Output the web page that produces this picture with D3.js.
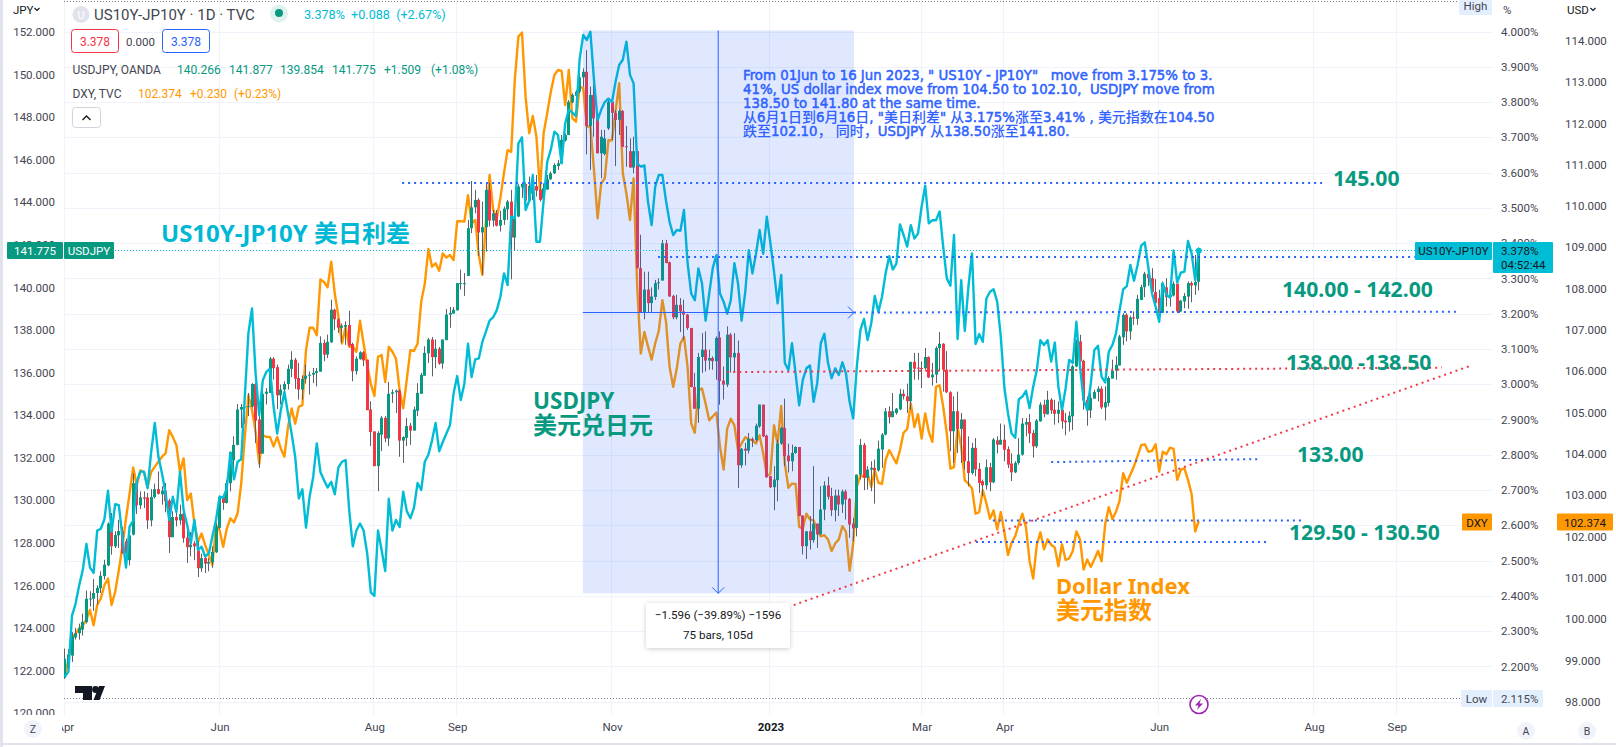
<!DOCTYPE html>
<html><head><meta charset="utf-8">
<script src="https://cdn.jsdelivr.net/npm/d3@7/dist/d3.min.js"></script>
<style>
html,body{margin:0;padding:0;background:#fff;overflow:hidden}
svg{display:block}
text{font-family:Roboto,"Noto Sans CJK SC",sans-serif}
.big{font-family:"Noto Sans","Noto Sans CJK SC",sans-serif;font-weight:700}
</style></head><body>
<svg id="c" width="1616" height="747"></svg>
<script>
// ---------- data ----------
const opens=[121.65,122.1,122.7,123.55,123.75,123.92,124.27,125.35,125.37,125.64,
125.86,126.43,126.94,128.58,127.83,128.35,128.55,128.07,127.18,128.38,
130.8,129.76,130.13,130.13,129.05,130.15,130.52,130.28,130.45,129.98,
128.26,129.21,129.05,129.37,128.24,127.79,127.97,127.64,126.8,127.28,
127.02,127.08,127.55,128.7,130.15,129.87,130.8,131.87,132.6,134.26,
134.38,134.4,134.4,135.46,133.79,132.19,135,135.04,136.65,136.25,
134.93,135.2,135.46,136.17,136.6,135.74,135.2,135.7,135.85,135.9,
135.98,136.04,137.39,136.84,137.42,138.95,138.5,138.1,138.15,138.23,
137.34,136.06,136.63,136.95,136.6,134.26,133.23,131.6,133.08,133.87,
132.9,135,135.07,135.15,132.8,132.93,133.5,133.27,134.2,135,
135.85,136.9,137.55,136.72,137.12,136.42,137.52,138.72,138.77,138.92,
140.2,140.17,140.54,142.78,143.76,144.11,142.58,142.83,144.58,143.14,
143.48,142.9,143.17,143.67,144.03,142.34,143.33,144.7,144.86,144.08,
144.42,144.76,144.6,144.18,144.6,145.08,145.36,145.7,145.83,146.9,
147.16,148.7,149,149.2,149.87,150.13,147.58,149.04,147.94,146.3,
146.27,147.47,148.72,148.2,147.87,148.29,146.63,146.4,145.63,146.4,
140.9,138.8,139.9,139.26,139.55,140.2,140.32,142.07,141.18,139.6,
138.59,139.18,138.87,138.72,138.09,135.32,134.3,136.73,137.07,136.56,
136.68,136.53,137.65,135.62,135.43,137.78,136.71,136.92,131.64,132.42,
132.33,132.88,132.82,133.47,134.49,133.03,131.13,130.61,130.94,132.66,
133.4,132.1,131.83,132.22,132.5,129.28,127.84,128.54,128.12,128.9,
128.39,129.56,130.69,130.19,129.53,130.22,129.8,130.41,130.06,128.9,
128.7,131.2,132.6,131.05,131.44,131.52,131.4,132.38,133.08,134.18,
133.9,134.1,134.27,135,134.88,134.65,136.5,136.23,136.21,136.2,
136.73,135.77,135.9,137.15,137.35,136.13,135.07,133.24,134.18,133.35,
133.79,131.83,131.28,132.46,131.47,130.89,130.7,131.55,130.84,132.81,
132.61,132.84,132.4,131.72,131.31,131.75,132.14,133.55,133.67,133.16,
132.53,133.7,134.49,134.04,134.72,134.25,134.06,134.25,133.74,133.66,
133.94,136.29,137.46,136.55,134.72,134.22,134.77,135.08,135.24,134.36,
134.57,135.71,136.08,136.33,137.66,138.71,137.93,138.59,138.52,139.41,
140.01,140.64,140.43,139.78,139.5,138.8,140,139.54,139.62,140.17,
138.87,139.34,139.57,140.2,140.09,140.266];
const highs=[123.03,123,123.8,124,124.2,124.67,125.75,125.72,126.3,126,
126.66,127.2,128.96,129.4,128.54,129.08,128.74,128.2,128.77,131.27,
130.88,130.41,130.41,130.34,130.52,130.78,131.35,130.65,130.81,130.07,
129.48,129.45,129.79,129.4,128.6,128.5,128.07,128.07,127.49,127.44,
127.28,127.83,128.93,130.21,130.2,130.96,132.29,133,134.52,134.52,
134.73,135.04,135.5,135.51,134.1,135.2,135.27,136.73,136.72,136.37,
135.43,135.59,136.37,137,136.68,136.45,135.87,136.37,136.05,136.21,
136.21,137.7,137.55,137.78,139.42,139,138.55,138.3,138.4,138.9,
137.4,136.76,137,137,136.6,134.65,133.23,133.24,133.95,133.95,
135.56,135.2,135.2,135.2,133,133.87,133.63,134.4,135.5,135.98,
137.23,137.62,137.67,137.55,137.2,137.55,138.98,139.08,139.08,140.2,
140.83,140.67,143.17,145,144.58,144.19,144.03,144.89,144.92,143.64,
143.64,143.6,143.8,144.11,144.58,143.48,144.84,144.89,144.92,145.2,
144.9,145.28,144.89,144.89,145.28,145.44,145.83,145.99,147.16,147.24,
148.8,149.12,149.27,150.06,150.29,151.15,149.43,150.21,148,147.4,
147.4,148.88,148.88,148.33,148.37,148.33,147.58,147,147.08,146.43,
142.47,140.74,140.74,140,140.35,140.43,142.23,142.23,141.21,139.65,
139.65,139.5,139.42,138.75,138.1,135.98,136.92,137.85,137.93,137.07,
136.76,137.7,137.93,136.29,138.17,137.85,137.85,137.5,132.45,132.69,
133.16,132.95,133.6,134.49,134.49,133.08,131.13,131.6,132.85,133.45,
134.77,132.66,132.61,132.53,132.5,129.28,128.54,129.25,131.6,128.9,
130.66,130.89,131.1,130.58,130.5,130.5,130.5,130.5,130.1,129.17,
131.2,132.88,132.69,131.6,131.83,131.91,132.8,133.16,134.33,134.41,
135.04,134.33,135.23,135.2,135.48,136.5,136.92,136.92,136.52,137.15,
136.76,136.45,137.23,137.9,137.38,137,135.12,134.88,135.1,134.1,
133.79,133,132.69,132.92,131.75,130.97,131.91,131.75,132.92,133,
133.6,133.55,132.53,132.2,131.83,132.92,133.86,133.86,134.05,133.3,
133.81,134.6,134.72,135.14,134.8,134.72,134.64,134.33,134.1,134.17,
136.36,137.54,137.77,136.6,134.87,135.03,135.19,135.35,135.35,135.35,
135.82,136.6,136.76,137.77,138.79,138.79,138.67,138.87,139.65,140.12,
140.73,140.67,140.9,140.39,139.89,140.28,140.43,139.89,140.28,140.17,
139.41,139.73,140.28,140.28,141.53,141.877];
const lows=[121.6,122,122.4,123.45,123.45,123.64,124.2,125,124.8,125.1,
125.64,126.27,126.9,127.44,127.75,127.75,127.49,126.9,126.93,128.35,
129.35,129.59,129.63,128.65,128.77,130.07,130.26,129.79,129.43,127.52,
128.26,128.77,128.85,128,127.05,127.36,127.18,126.39,126.63,126.58,
126.66,126.82,127.52,128.65,129.55,129.84,130.41,131.43,132.58,133.4,
133.6,133.95,134.35,132.69,131.52,132.19,134.5,135.04,135.67,134.29,
134.5,134.73,135.2,135.78,135.23,134.73,134.73,135.48,134.96,135.5,
135.35,136.04,136.53,136.68,137.39,138,137.86,137.39,137.3,137.23,
135.59,135.9,136.6,136.3,134.23,132.54,131.6,130.42,132.3,132.72,
132.54,134.57,134.1,132.04,131.75,132.54,132.6,133.27,133.95,135,
135.85,136.45,135.82,136.2,136.37,136.18,137.52,138.1,138.77,138.92,
139.9,139.6,140.54,142.55,143.48,141.48,140.6,141.68,142.86,142.86,
142.86,142.62,142.94,143.17,140.38,141.76,143.3,144.2,144.03,144.03,
144.1,144.27,144.03,144.11,144.58,145.05,145.33,145.52,146.9,146.85,
147.16,148.65,148.49,149.12,149.43,146.25,145.52,147.08,146.3,145.13,
146.2,147.4,146.93,145.7,147.16,146.6,145.67,145.63,145.36,140.9,
138.8,138.5,138.8,138.8,139.41,139.9,140.32,141.14,139.57,138.5,
138.5,137.9,137.54,138,135.3,134.3,133.63,135.98,136.05,136.13,
136.13,135.66,134.49,134.73,135.32,136,136.06,130.58,131.52,131.64,
132.19,132.5,132.77,133.4,132.97,131.05,130.58,129.53,129.95,132.6,
131.6,131.3,131.36,132.18,129.25,127.45,127.23,127.68,128,127.76,
128.39,129.06,130.03,129.25,129,129.25,129.4,129.09,128.23,128.07,
128.3,130.97,130.47,130.5,130.42,129.84,131.35,131.52,133.05,133.6,
133.9,134.02,134.22,134.73,134.1,134.25,135.66,135.66,135.27,136.13,
135.74,135.38,135.5,136.06,135.1,135.04,132.3,131.75,132.22,131.75,
131.44,130.65,131.2,131.12,130.34,130.2,130.5,130.42,130.8,132.2,
132.61,131.83,131.51,130.9,131.27,131.67,132.09,133,132.69,132,
132.45,133.7,133.9,134.02,134.06,133.55,133.62,133.36,133.05,133.23,
133.3,136.25,136.47,134.25,133.5,133.86,135.05,134.64,134.28,133.75,
134.41,136.06,135.66,136.33,137.3,137.46,137.54,138.24,138.24,139.41,
139.54,140.07,139.73,139,138.79,138.79,139.1,139.1,139.57,138.79,
138.84,139.02,139,139.3,139.65,139.854];
const closes=[122.55,122.75,123.6,123.75,124,124.28,125.37,125.38,125.64,125.88,
126.45,126.97,128.9,127.83,128.36,128.55,127.5,127.49,128.35,130.8,
129.76,130.13,130.07,129.05,130.15,130.52,130.3,130.45,129.95,128.26,
129.21,129.05,129.35,128.21,127.79,127.91,127.83,126.8,127.28,127.02,
127.1,127.57,128.74,130.15,129.87,130.8,132.25,132.6,134.26,134.38,
134.4,134.42,135.46,133.74,132.19,135,135.1,136.65,136.2,134.93,
135.2,135.46,136.17,136.6,135.71,135.2,135.7,135.85,135.9,135.98,
136.06,137.39,136.84,137.44,138.95,138.5,138.1,138.2,138.23,137.26,
136.06,136.65,136.95,136.57,134.23,133.2,131.6,133.16,133.87,132.9,
135,135.07,135.15,132.8,132.97,133.48,133.27,134.26,135.04,135.89,
136.92,137.55,136.72,137.12,136.42,137.55,138.72,138.8,138.95,140.2,
140.2,140.2,142.78,143.76,144.11,142.58,142.83,144.58,143.14,143.48,
142.9,143.17,143.7,144.03,142.34,143.33,144.74,144.86,144.08,144.77,
144.78,144.55,144.11,144.66,145.08,145.36,145.75,145.83,146.93,147.16,
148.72,149.04,149.2,149.87,150.13,147.58,149.04,147.94,146.3,147.08,
147,148.72,148.2,147.87,148.29,146.6,146.6,145.63,146.4,140.9,
138.8,139.9,139.26,139.57,140.2,140.24,142.07,141.14,139.57,138.59,
139.18,138.87,138.72,138.09,135.32,134.3,136.73,137.07,136.56,136.68,
136.53,137.62,135.6,135.43,137.78,136.71,136.92,131.64,132.42,132.33,
132.88,132.8,133.5,134.49,133,131.08,130.61,130.97,132.66,133.4,
132.07,131.83,132.22,132.5,129.25,127.84,128.54,128.12,128.9,128.39,
129.56,130.69,130.16,129.53,130.22,129.8,130.41,130.03,128.86,128.67,
131.2,132.6,131.05,131.44,131.52,131.4,132.42,133.08,134.18,133.9,
134.18,134.3,135,134.88,134.65,136.5,136.18,136.21,136.2,136.73,
135.77,135.9,137.15,137.35,136.13,135.07,133.24,134.18,133.35,133.79,
131.83,131.28,132.46,131.44,130.81,130.7,131.55,130.84,132.85,132.61,
132.84,132.37,131.67,131.31,131.75,132.14,133.6,133.67,133.13,132.53,
133.74,134.49,134.06,134.72,134.22,134.06,134.25,133.7,133.66,133.97,
136.29,137.46,136.52,134.69,134.22,134.8,135.08,135.24,134.36,134.6,
135.74,136.08,136.36,137.69,138.71,137.93,138.59,138.54,139.46,140.01,
140.64,140.43,139.78,139.26,138.8,140.2,139.54,139.65,140.17,138.87,
139.38,139.6,140.2,140.09,140.25,141.775];
const spread=[2.17,2.185,2.344,2.378,2.43,2.473,2.547,2.48,2.465,2.585,
2.59,2.617,2.698,2.582,2.66,2.657,2.568,2.48,2.596,2.613,
2.723,2.752,2.752,2.705,2.809,2.89,2.794,2.747,2.69,2.615,
2.681,2.638,2.752,2.643,2.6,2.549,2.615,2.53,2.539,2.511,
2.52,2.568,2.615,2.681,2.678,2.705,2.806,2.73,2.78,2.787,
2.964,3.144,3.215,3.03,2.912,3.011,3.035,3.044,2.936,2.86,
2.926,2.978,2.917,2.86,2.794,2.676,2.702,2.593,2.681,2.737,
2.832,2.751,2.728,2.707,2.723,2.688,2.764,2.78,2.785,2.643,
2.54,2.585,2.605,2.585,2.52,2.41,2.4,2.585,2.53,2.47,
2.675,2.585,2.615,2.595,2.695,2.64,2.62,2.65,2.72,2.7,
2.78,2.8,2.84,2.89,2.81,2.836,2.86,2.884,2.974,3.023,
2.955,3.002,3.115,3.02,3.07,3.073,3.12,3.15,3.18,3.19,
3.21,3.248,3.314,3.281,3.475,3.47,3.683,3.7,3.494,3.52,
3.593,3.404,3.404,3.52,3.63,3.665,3.716,3.706,3.626,3.74,
3.778,3.77,3.76,3.92,3.99,3.976,3.999,3.862,3.749,3.778,
3.8,3.81,3.8,3.858,3.905,3.92,3.971,3.877,3.853,3.625,
3.617,3.62,3.517,3.451,3.56,3.593,3.593,3.52,3.46,3.423,
3.437,3.435,3.494,3.343,3.257,3.238,3.328,3.286,3.18,3.257,
3.33,3.366,3.257,3.234,3.2,3.238,3.343,3.286,3.18,3.26,
3.38,3.314,3.37,3.437,3.37,3.475,3.4,3.32,3.229,3.31,
3.06,3.04,3.116,3.03,2.94,3.012,3.045,3.053,2.95,3.003,
3.116,3.143,3.06,3.017,3.045,3.026,3.062,3.03,2.95,2.903,
3.05,3.153,3.185,3.125,3.172,3.25,3.205,3.248,3.314,3.363,
3.325,3.342,3.453,3.423,3.39,3.451,3.413,3.427,3.503,3.563,
3.456,3.465,3.465,3.49,3.39,3.3,3.279,3.423,3.128,3.295,
3.151,3.276,3.371,3.114,3.142,3.12,3.243,3.262,3.269,3.234,
3.134,2.99,2.917,2.86,2.848,2.957,2.965,2.981,2.932,2.993,
3.04,3.125,3.111,3.125,3.064,3.118,2.993,2.927,2.988,3.069,
3.06,3.177,3.05,2.955,2.927,3.002,3.097,3.109,3.021,3.005,
3.092,3.111,3.144,3.21,3.269,3.278,3.338,3.293,3.338,3.393,
3.402,3.329,3.258,3.22,3.177,3.286,3.253,3.246,3.379,3.288,
3.316,3.319,3.406,3.371,3.295,3.378];
const dxy=[98.64,99,99.55,99.65,99.77,99.85,99.99,100.22,99.85,100.34,
100.5,100.82,100.98,100.34,100.66,101.18,101.75,102.44,103.04,103.67,
103.24,103.6,103.56,103.2,103.56,103.69,103.81,103.93,104.01,104.57,
104.41,104.21,103.56,103.89,102.88,103.04,102.31,101.87,102.07,101.79,
101.55,101.31,102.27,102.15,101.75,102.19,102.44,102.34,102.56,103.28,
104.41,105.42,105.06,104.53,103.76,104.45,104.41,104.41,104.18,104.41,
104.13,103.93,104.65,105.1,104.73,105.14,105.18,106.51,107.05,107.05,
106.87,108.22,108.16,108.03,108.65,107.88,107.32,106.67,107.07,106.59,
106.59,106.47,107.22,106.67,106.15,105.7,105.4,106.35,106.39,105.74,
106.59,106.47,106.3,105.54,105.1,105.8,106.51,106.49,106.67,107.68,
108.12,108.96,108.53,108.61,108.43,108.85,108.75,108.81,108.69,109.63,
109.63,109.62,110.26,109.58,109.66,108.81,108.33,109.66,110.75,109.9,
109.7,110.2,110.8,111.35,111.31,113.05,114.1,114.2,112.64,111.76,
112.18,111.68,110.38,111.76,112.24,112.76,113.17,113.29,113.27,112.44,
113.29,112.12,112.04,112.89,112.85,111.92,111.92,110.87,109.7,110.55,
110.67,111.59,111.59,112.3,112.97,110.79,110.3,109.66,110.67,108.04,
106.43,106.95,106.6,106.28,106.67,106.98,107.72,107.2,106.1,105.62,
106.07,106.67,106.83,106.1,104.73,104.51,105.54,105.58,105.22,104.81,
104.91,105,104.17,103.62,104.61,104.85,104.69,104.09,104.25,104.4,
104.35,104.33,104.25,104.45,104.01,103.48,103.51,104.69,104.25,105.16,
103.77,103.18,103.28,103.27,102.23,102.19,102.55,102.41,102.39,102.15,
102,102.03,101.93,101.65,101.83,101.93,102.25,102.11,101.17,101.83,
103.2,103.48,103.44,103.52,103.2,103.6,103.3,103.27,103.85,104.09,
103.93,103.77,104.09,104.51,104.6,105.22,104.65,104.96,104.37,104.98,
104.53,104.29,105.62,105.66,105.14,104.49,103.64,103.68,104.65,104.17,
103.36,103.28,103.16,102.55,102.59,103.12,102.8,102.43,102.63,102.17,
102.59,102.1,101.55,101.85,102,102.3,102.55,102.22,101.4,100.98,
101.8,102.1,101.69,101.93,101.8,101.73,101.28,101.81,101.43,101.47,
101.65,102.12,101.93,101.2,101.44,101.26,101.45,101.65,101.4,102.3,
102.71,102.42,102.6,102.87,103.53,103.3,103.5,103.7,103.95,104.21,
104.23,104.05,104.07,104.23,103.57,104.05,103.99,104.15,104.12,103.37,
103.61,103.65,103.37,103.03,102.12,102.374];

const timeTickBars=[0,43,86,109,152,196,238,261,304,347,370];
const timeTickLabels=["Apr","Jun","Aug","Sep","Nov","2023","Mar","Apr","Jun","Aug","Sep"];
const jpyTicks=[120,122,124,126,128,130,132,134,136,138,140,142,144,146,148,150,152];
const pctTicks=[2.1,2.2,2.3,2.4,2.5,2.6,2.7,2.8,2.9,3.0,3.1,3.2,3.3,3.4,3.5,3.6,3.7,3.8,3.9,4.0];
const usdTicks=[98,99,100,101,102,103,104,105,106,107,108,109,110,111,112,113,114];

// drawn levels: bar index from/to, USDJPY price from/to
const blueLevels=[[93.7,349.7,144.9,144.9],[164.8,375,141.43,141.43],[219.2,386.6,138.82,138.86],
  [274,331.6,131.79,131.93],[257.8,343.7,129.04,129.04],[253.1,334,128.03,128.03]];
const redLevels=[[184,382.5,136.02,136.23],[200.9,390.2,124.98,136.3]];
const measureBars=[143.9,219.2];         // date range of the measuring box
const measurePct=[4.003,2.407];          // price range of the measuring box
const measureCentre=181.5;
const measureY=138.82;

const noteLines=['From 01Jun to 16 Jun 2023, " US10Y - JP10Y"   move from 3.175% to 3.',
 '41%, US dollar index move from 104.50 to 102.10,  USDJPY move from',
 '138.50 to 141.80 at the same time.',
 '从6月1日到6月16日, "美日利差" 从3.175%涨至3.41% , 美元指数在104.50',
 '跌至102.10， 同时，USDJPY 从138.50涨至141.80.'];

// ---------- scales ----------
const W=1616,H=747,plotL=64,plotR=1493,plotB=715;
const x=d3.scaleLinear().domain([0,315]).range([64.8,1198.8]);
const yJ=d3.scaleLinear().domain([120,152]).range([713,32]);
const yP=d3.scaleLinear().domain([2.1,4]).range([701.6,31.5]);
const yU=d3.scaleLinear().domain([98,114]).range([701.7,40.7]);

const TEAL="#089981",RED="#f23645",CYAN="#00bcd4",ORANGE="#ff9800",BLUE="#2962ff",INK="#434651",GRID="#f0f3fa";
const svg=d3.select("#c");
const defs=svg.append("defs");
defs.append("clipPath").attr("id","plot").append("rect").attr("x",plotL).attr("y",0).attr("width",plotR-plotL).attr("height",plotB);
defs.append("clipPath").attr("id","leftAx").append("rect").attr("x",0).attr("y",20).attr("width",plotL).attr("height",plotB-20);
defs.append("clipPath").attr("id","timeAx").append("rect").attr("x",62).attr("y",plotB).attr("width",W).attr("height",30);
defs.append("clipPath").attr("id","rightAx").append("rect").attr("x",plotR).attr("y",20).attr("width",W).attr("height",plotB-20);

// page furniture
svg.append("rect").attr("width",3).attr("height",H).attr("fill","#e0e3eb");
svg.append("rect").attr("y",743).attr("width",W).attr("height",2).attr("fill","#e0e3eb");
svg.append("line").attr("x1",plotL+.5).attr("x2",plotL+.5).attr("y1",0).attr("y2",plotB).attr("stroke",GRID);

// grid
const grid=svg.append("g");
grid.selectAll("line.h").data(pctTicks).join("line").attr("x1",plotL).attr("x2",plotR)
  .attr("y1",d=>Math.round(yP(d))+.5).attr("y2",d=>Math.round(yP(d))+.5).attr("stroke",GRID);
grid.selectAll("line.v").data(timeTickBars).join("line").attr("y1",0).attr("y2",plotB)
  .attr("x1",d=>Math.round(x(d))-.5).attr("x2",d=>Math.round(x(d))-.5).attr("stroke",GRID);

// high / low dotted
const hl=svg.append("g").attr("stroke","#787b86").attr("stroke-dasharray","1 2");
hl.append("line").attr("x1",plotL).attr("x2",1459).attr("y1",1.5).attr("y2",1.5);
hl.append("line").attr("x1",plotL).attr("x2",1461).attr("y1",698.5).attr("y2",698.5);

// marks
const plot=svg.append("g").attr("clip-path","url(#plot)");
const idx=d3.range(closes.length);
const lineOf=(arr,y)=>d3.line().x((d,i)=>x(i)).y(d=>y(d)).curve(d3.curveLinear)(arr);
plot.append("path").attr("d",lineOf(dxy,yU)).attr("fill","none").attr("stroke",ORANGE).attr("stroke-width",2.4).attr("stroke-linejoin","round");
const candles=plot.append("g");
candles.selectAll("line").data(idx).join("line")
  .attr("x1",i=>Math.round(x(i)-1.5)+1.5).attr("x2",i=>Math.round(x(i)-1.5)+1.5).attr("y1",i=>yJ(highs[i])).attr("y2",i=>yJ(lows[i]))
  .attr("stroke","#5d606b").attr("stroke-width",1);
candles.selectAll("rect").data(idx).join("rect")
  .attr("x",i=>Math.round(x(i)-1.5)).attr("width",3)
  .attr("y",i=>Math.min(yJ(opens[i]),yJ(closes[i])))
  .attr("height",i=>Math.max(1,Math.abs(yJ(opens[i])-yJ(closes[i]))))
  .attr("fill",i=>closes[i]>=opens[i]?TEAL:RED);
plot.append("path").attr("d",lineOf(spread,yP)).attr("fill","none").attr("stroke",CYAN).attr("stroke-width",2.4).attr("stroke-linejoin","round");

// measuring box tint over the marks
const mx0=x(measureBars[0]),mx1=x(measureBars[1]),my0=yP(measurePct[0]),my1=yP(measurePct[1]);
svg.append("rect").attr("x",mx0).attr("y",my0).attr("width",mx1-mx0).attr("height",my1-my0).attr("fill",BLUE).attr("fill-opacity",.15);

// last price dotted
svg.append("line").attr("x1",plotL).attr("x2",1415).attr("y1",Math.round(yJ(141.775))+.5).attr("y2",Math.round(yJ(141.775))+.5)
  .attr("stroke",CYAN).attr("stroke-dasharray","1 2");
plot.append("circle").attr("cx",x(315)).attr("cy",yP(3.378)).attr("r",3).attr("fill",CYAN);

// drawn levels
const drawLevels=(rows,col)=>svg.append("g").selectAll("line").data(rows).join("line")
  .attr("x1",d=>x(d[0])).attr("x2",d=>x(d[1])).attr("y1",d=>yJ(d[2])).attr("y2",d=>yJ(d[3]))
  .attr("stroke",col).attr("stroke-width",2).attr("stroke-dasharray","2 4");
drawLevels(blueLevels,BLUE); drawLevels(redLevels,RED);

// measuring arrows
const cx=x(measureCentre),cy=yJ(measureY);
const mg=svg.append("g").attr("stroke",BLUE).attr("fill","none");
mg.append("line").attr("x1",mx0).attr("x2",mx1).attr("y1",cy).attr("y2",cy);
mg.append("line").attr("x1",cx).attr("x2",cx).attr("y1",my0).attr("y2",my1);
mg.append("path").attr("d",`M${mx1-6},${cy-6}L${mx1},${cy}L${mx1-6},${cy+6}`);
mg.append("path").attr("d",`M${cx-6},${my1-6}L${cx},${my1}L${cx+6},${my1-6}`);

// note: Latin runs in DejaVu, CJK runs in Noto CJK at their own size
const note=svg.append("g").attr("fill","#2f62ff");
noteLines.forEach((line,i)=>{
  const t=note.append("text").attr("x",743).attr("y",80+i*14.1).attr("xml:space","preserve").style("white-space","pre");
  line.split(/([\u3000-\u9fff\uff00-\uffef]+)/).filter(s=>s).forEach(run=>{
    const cjk=/[\u3000-\u9fff\uff00-\uffef]/.test(run);
    t.append("tspan").text(run)
     .style("font-family",cjk?'"Noto Sans CJK SC"':'"DejaVu Sans"')
     .attr("font-size",cjk?14:13.3).attr("font-weight",cjk?500:400)
     .attr("stroke",cjk?"none":"#2f62ff").attr("stroke-width",cjk?0:.5);
  });
});

// big labels
function label(t,xp,yp,col,size,cls){return svg.append("text").attr("class",cls||"big").attr("x",xp).attr("y",yp).attr("fill",col).attr("font-size",size).text(t);}
label("US10Y-JP10Y 美日利差",161,242,"#00b8d4",24);
label("USDJPY",533,409,TEAL,22.5);
label("美元兑日元",533,434,TEAL,24);
label("Dollar Index",1056,594,ORANGE,22);
label("美元指数",1056,619,ORANGE,24);
[["145.00",1333,186],["140.00 - 142.00",1282,297],["138.00 -138.50",1286,370],["133.00",1297,462],["129.50 - 130.50",1289,540]]
 .forEach(d=>label(d[0],d[1],d[2],TEAL,21.2).attr("font-weight",500));

// tooltip
const tf=defs.append("filter").attr("id","sh").attr("x","-20%").attr("y","-30%").attr("width","140%").attr("height","170%");
tf.append("feDropShadow").attr("dx",0).attr("dy",1).attr("stdDeviation",2.5).attr("flood-color","#000").attr("flood-opacity",.2);
svg.append("rect").attr("x",646).attr("y",603).attr("width",144).attr("height",45).attr("rx",3).attr("fill","#fff").attr("filter","url(#sh)");
svg.append("text").attr("x",718).attr("y",619).attr("text-anchor","middle").attr("font-size",11.6).attr("fill","#131722").text("−1.596 (−39.89%) −1596");
svg.append("text").attr("x",718).attr("y",639).attr("text-anchor","middle").attr("font-size",11.6).attr("fill","#131722").text("75 bars, 105d");

// axes (real d3 axes, no domain or tick lines)
function clean(g){g.select(".domain").remove();g.selectAll(".tick line").remove();g.selectAll("text").attr("fill",INK).attr("font-family","Roboto").attr("font-size",11.5);}
svg.append("g").attr("clip-path","url(#leftAx)").append("g").attr("transform","translate(64,0)")
  .call(d3.axisLeft(yJ).tickValues(jpyTicks).tickFormat(d3.format(".3f")).tickSize(0).tickPadding(9)).call(clean);
svg.append("g").attr("clip-path","url(#rightAx)").append("g").attr("transform","translate(1493,0)")
  .call(d3.axisRight(yP).tickValues(pctTicks).tickFormat(d=>d3.format(".3f")(d)+"%").tickSize(0).tickPadding(8)).call(clean);
svg.append("g").attr("clip-path","url(#rightAx)").append("g").attr("transform","translate(1557,0)")
  .call(d3.axisRight(yU).tickValues(usdTicks).tickFormat(d3.format(".3f")).tickSize(0).tickPadding(8)).call(clean);
const tAx=svg.append("g").attr("clip-path","url(#timeAx)").append("g").attr("transform",`translate(0,${plotB+3})`)
  .call(d3.axisBottom(x).tickValues(timeTickBars).tickFormat((d,i)=>timeTickLabels[i]).tickSize(0).tickPadding(5)).call(clean);
tAx.selectAll("text").filter(d=>d===196).attr("font-weight",700).attr("fill","#131722");

// axis units
function small(t,xp,yp,col,anc,size,w){return svg.append("text").attr("x",xp).attr("y",yp).attr("fill",col||INK).attr("font-size",size||11.5).attr("text-anchor",anc||"start").attr("font-weight",w||400).text(t);}
small("JPY",13,14,"#131722");
small("%",1503,14,INK);
small("USD",1567,14,"#131722");
const chev=(cxp,cyp)=>svg.append("path").attr("d",`M${cxp-2.5},${cyp-1.5}L${cxp},${cyp+1}L${cxp+2.5},${cyp-1.5}`).attr("fill","none").attr("stroke","#131722").attr("stroke-width",1.2);
chev(37,9.5);chev(1593,9.5);

// tags
function tag(xp,yp,w,h,fill,lines,col,anc,rx){
  svg.append("rect").attr("x",xp).attr("y",yp).attr("width",w).attr("height",h).attr("fill",fill).attr("rx",rx||1);
  lines.forEach((t,i)=>svg.append("text").attr("x",anc==="middle"?xp+w/2:xp+8).attr("y",yp+13+i*14).attr("text-anchor",anc||"start")
    .attr("font-size",11.5).attr("fill",col).text(t));
}
tag(7,242,56,17,TEAL,["141.775"],"#fff","middle");
tag(64,242,50,17,TEAL,["USDJPY"],"#fff","middle");
tag(1415,242,77,18,CYAN,["US10Y-JP10Y"],"#131722","middle");
tag(1493,242,60,31,CYAN,["3.378%","04:52:44"],"#131722");
tag(1462,513.5,30,17,ORANGE,["DXY"],"#131722","middle");
tag(1557,513.5,56,17,ORANGE,["102.374"],"#131722","middle");
tag(1459,0,33,15,"#e3effd",[],INK);
svg.append("text").attr("x",1475.5).attr("y",10).attr("text-anchor","middle").attr("font-size",11.5).attr("fill",INK).text("High");
tag(1461,690,31,17,"#e3effd",["Low"],INK,"middle");
tag(1493,690,50,17,"#e3effd",["2.115%"],INK);

// legend block
svg.append("circle").attr("cx",81).attr("cy",14.5).attr("r",8.5).attr("fill","#e0e3eb");
svg.append("text").attr("x",81).attr("y",18.5).attr("text-anchor","middle").attr("font-size",11).attr("fill","#fff").text("U");
svg.append("text").attr("x",94).attr("y",19.5).attr("font-size",15).attr("fill",INK).text("US10Y-JP10Y · 1D · TVC");
svg.append("circle").attr("cx",279).attr("cy",13.5).attr("r",9).attr("fill","#e0f2ef");
svg.append("circle").attr("cx",279).attr("cy",13).attr("r",4).attr("fill",TEAL);
svg.append("text").attr("x",304).attr("y",19).attr("font-size",12.6).attr("fill",CYAN).attr("xml:space","preserve").style("white-space","pre").text("3.378%  +0.088  (+2.67%)");
svg.append("rect").attr("x",71.5).attr("y",29.5).attr("width",47).attr("height",23).attr("rx",3).attr("fill","#fff").attr("stroke",RED);
svg.append("text").attr("x",95).attr("y",46).attr("text-anchor","middle").attr("font-size",12).attr("fill",RED).text("3.378");
svg.append("text").attr("x",140.5).attr("y",45.5).attr("text-anchor","middle").attr("font-size",11.5).attr("fill",INK).text("0.000");
svg.append("rect").attr("x",162.5).attr("y",29.5).attr("width",47).attr("height",23).attr("rx",3).attr("fill","#fff").attr("stroke",BLUE);
svg.append("text").attr("x",186).attr("y",46).attr("text-anchor","middle").attr("font-size",12).attr("fill",BLUE).text("3.378");
small("USDJPY, OANDA",72.5,74,INK,"start",12);
[["140.266",177],["141.877",229],["139.854",280],["141.775",332],["+1.509",384],["(+1.08%)",431]].forEach(d=>small(d[0],d[1],74,TEAL,"start",12));
small("DXY, TVC",72.5,98,INK,"start",12);
[["102.374",138],["+0.230",190],["(+0.23%)",234]].forEach(d=>small(d[0],d[1],98,ORANGE,"start",12));
svg.append("rect").attr("x",72.5).attr("y",107.5).attr("width",28).attr("height",20).attr("rx",3).attr("fill","#fff").attr("stroke","#d1d4dc");
svg.append("path").attr("d","M82.5,120L86.5,116L90.5,120").attr("fill","none").attr("stroke","#131722").attr("stroke-width",1.4);

// logo
const logo=svg.append("g").attr("fill","#131722");
logo.append("path").attr("d","M75,686H92V700H83V693H75Z");
logo.append("circle").attr("cx",95.5).attr("cy",689.5).attr("r",3.4);
logo.append("path").attr("d","M99,686H105L99.5,700H93.5Z");

// lightning
svg.append("circle").attr("cx",1199).attr("cy",704.5).attr("r",9).attr("fill","#fff").attr("stroke","#9c27b0").attr("stroke-width",1.6);
svg.append("path").attr("d","M1201,699L1195,705.5H1198.5L1197,710L1203,703.5H1199.5Z").attr("fill","#9c27b0");

// bottom buttons
[["Z",33,729],["A",1526,731],["B",1587,731]].forEach(d=>{
  svg.append("circle").attr("cx",d[1]).attr("cy",d[2]).attr("r",9).attr("fill","#f0f3fa");
  svg.append("text").attr("x",d[1]).attr("y",d[2]+4).attr("text-anchor","middle").attr("font-size",10.5).attr("fill",INK).text(d[0]);
});
</script></body></html>
